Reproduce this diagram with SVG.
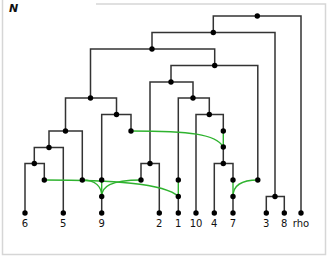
<svg xmlns="http://www.w3.org/2000/svg" width="327" height="256" viewBox="0 0 327 256">
<style>
.frame{fill:none;stroke:#d6d6d6;stroke-width:1.5}
.e{fill:none;stroke:#333;stroke-width:1.5}
.r{fill:none;stroke:#2fb32f;stroke-width:1.4}
.d{fill:#000}
.lb{font-family:"DejaVu Sans",sans-serif;font-size:10px;fill:#111;text-anchor:middle}
.t{font-family:"DejaVu Sans",sans-serif;font-size:11px;font-weight:bold;font-style:italic;fill:#111}
</style>
<path class="frame" d="M96,4 H325.5 V254.5 H2.5 V0"/>
<text class="t" x="9" y="12">N</text>
<g id="connectors">
<path class="e" d="M257.3,16 H213.3 V32.5"/>
<path class="e" d="M257.3,16 H301 V213"/>
<path class="e" d="M213.3,32.5 H152 V49"/>
<path class="e" d="M213.3,32.5 H275 V196.5"/>
<path class="e" d="M275,196.5 H266.3 V213"/>
<path class="e" d="M275,196.5 H284.3 V213"/>
<path class="e" d="M152,49 H90.5 V98"/>
<path class="e" d="M152,49 H214.7 V65.5"/>
<path class="e" d="M214.7,65.5 H171 V82"/>
<path class="e" d="M214.7,65.5 H257.8 V180"/>
<path class="e" d="M171,82 H150 V163.5"/>
<path class="e" d="M171,82 H193 V98"/>
<path class="e" d="M150,163.5 H141 V180"/>
<path class="e" d="M150,163.5 H159.3 V213"/>
<path class="e" d="M193,98 H178.3 V180"/>
<path class="e" d="M193,98 H209.3 V114.5"/>
<path class="e" d="M209.3,114.5 H196 V213"/>
<path class="e" d="M209.3,114.5 H223.3 V131"/>
<path class="e" d="M223.3,147 V163.5"/>
<path class="e" d="M223.3,163.5 H214.3 V213"/>
<path class="e" d="M223.3,163.5 H233 V180"/>
<path class="e" d="M233,196.5 V213"/>
<path class="e" d="M178.3,196.5 V213"/>
<path class="e" d="M90.5,98 H65.5 V131"/>
<path class="e" d="M90.5,98 H116.5 V114.5"/>
<path class="e" d="M116.5,114.5 H101.7 V180"/>
<path class="e" d="M116.5,114.5 H131 V131"/>
<path class="e" d="M65.5,131 H49 V147.5"/>
<path class="e" d="M65.5,131 H82.3 V180"/>
<path class="e" d="M49,147.5 H34.3 V163.5"/>
<path class="e" d="M49,147.5 H63.3 V213"/>
<path class="e" d="M34.3,163.5 H25 V213"/>
<path class="e" d="M34.3,163.5 H44.3 V180"/>
<path class="e" d="M101.7,196.5 V213"/>
<path class="r" d="M223.3,131 V147"/>
<path class="r" d="M131,131 C190,131 216,134 223.3,147"/>
<path class="r" d="M233,180 V196.5"/>
<path class="r" d="M257.8,180 C240,180 233,187 233,196.5"/>
<path class="r" d="M178.3,180 V196.5"/>
<path class="r" d="M44.3,180 C110,180 165,183 178.3,196.5"/>
<path class="r" d="M101.7,180 V196.5"/>
<path class="r" d="M82.3,180 C96,180 101.7,187 101.7,196.5"/>
<path class="r" d="M141,180 C110,180 101.7,187 101.7,196.5"/>
</g>
<g id="n_root"><circle class="d" cx="257.3" cy="16" r="2.7"/></g>
<g id="n_a"><circle class="d" cx="213.3" cy="32.5" r="2.7"/></g>
<g id="n_b"><circle class="d" cx="152" cy="49" r="2.7"/></g>
<g id="n_e"><circle class="d" cx="214.7" cy="65.5" r="2.7"/></g>
<g id="n_f"><circle class="d" cx="171" cy="82" r="2.7"/></g>
<g id="n_d"><circle class="d" cx="90.5" cy="98" r="2.7"/></g>
<g id="n_i"><circle class="d" cx="193" cy="98" r="2.7"/></g>
<g id="n_m"><circle class="d" cx="116.5" cy="114.5" r="2.7"/></g>
<g id="n_j"><circle class="d" cx="209.3" cy="114.5" r="2.7"/></g>
<g id="n_n1"><circle class="d" cx="65.5" cy="131" r="2.7"/></g>
<g id="n_t1"><circle class="d" cx="131" cy="131" r="2.7"/></g>
<g id="n_t2"><circle class="d" cx="223.3" cy="131" r="2.7"/></g>
<g id="n_k"><circle class="d" cx="223.3" cy="147" r="2.7"/></g>
<g id="n_n2"><circle class="d" cx="49" cy="147.5" r="2.7"/></g>
<g id="n_n3"><circle class="d" cx="34.3" cy="163.5" r="2.7"/></g>
<g id="n_h"><circle class="d" cx="150" cy="163.5" r="2.7"/></g>
<g id="n_l"><circle class="d" cx="223.3" cy="163.5" r="2.7"/></g>
<g id="n_t3"><circle class="d" cx="44.3" cy="180" r="2.7"/></g>
<g id="n_t4"><circle class="d" cx="82.3" cy="180" r="2.7"/></g>
<g id="n_t5"><circle class="d" cx="101.7" cy="180" r="2.7"/></g>
<g id="n_t6"><circle class="d" cx="141" cy="180" r="2.7"/></g>
<g id="n_t7"><circle class="d" cx="178.3" cy="180" r="2.7"/></g>
<g id="n_t8"><circle class="d" cx="233" cy="180" r="2.7"/></g>
<g id="n_t9"><circle class="d" cx="257.8" cy="180" r="2.7"/></g>
<g id="n_h9"><circle class="d" cx="101.7" cy="196.5" r="2.7"/></g>
<g id="n_h1"><circle class="d" cx="178.3" cy="196.5" r="2.7"/></g>
<g id="n_h7"><circle class="d" cx="233" cy="196.5" r="2.7"/></g>
<g id="n_c"><circle class="d" cx="275" cy="196.5" r="2.7"/></g>
<g id="leaf_6"><circle class="d" cx="25" cy="213" r="2.7"/><text class="lb" x="25" y="227">6</text></g>
<g id="leaf_5"><circle class="d" cx="63.3" cy="213" r="2.7"/><text class="lb" x="63.3" y="227">5</text></g>
<g id="leaf_9"><circle class="d" cx="101.7" cy="213" r="2.7"/><text class="lb" x="101.7" y="227">9</text></g>
<g id="leaf_2"><circle class="d" cx="159.3" cy="213" r="2.7"/><text class="lb" x="159.3" y="227">2</text></g>
<g id="leaf_1"><circle class="d" cx="178.3" cy="213" r="2.7"/><text class="lb" x="178.3" y="227">1</text></g>
<g id="leaf_10"><circle class="d" cx="196" cy="213" r="2.7"/><text class="lb" x="196" y="227">10</text></g>
<g id="leaf_4"><circle class="d" cx="214.3" cy="213" r="2.7"/><text class="lb" x="214.3" y="227">4</text></g>
<g id="leaf_7"><circle class="d" cx="233" cy="213" r="2.7"/><text class="lb" x="233" y="227">7</text></g>
<g id="leaf_3"><circle class="d" cx="266.3" cy="213" r="2.7"/><text class="lb" x="266.3" y="227">3</text></g>
<g id="leaf_8"><circle class="d" cx="284.3" cy="213" r="2.7"/><text class="lb" x="284.3" y="227">8</text></g>
<g id="leaf_rho"><circle class="d" cx="301" cy="213" r="2.7"/><text class="lb" x="301" y="227">rho</text></g>
</svg>
